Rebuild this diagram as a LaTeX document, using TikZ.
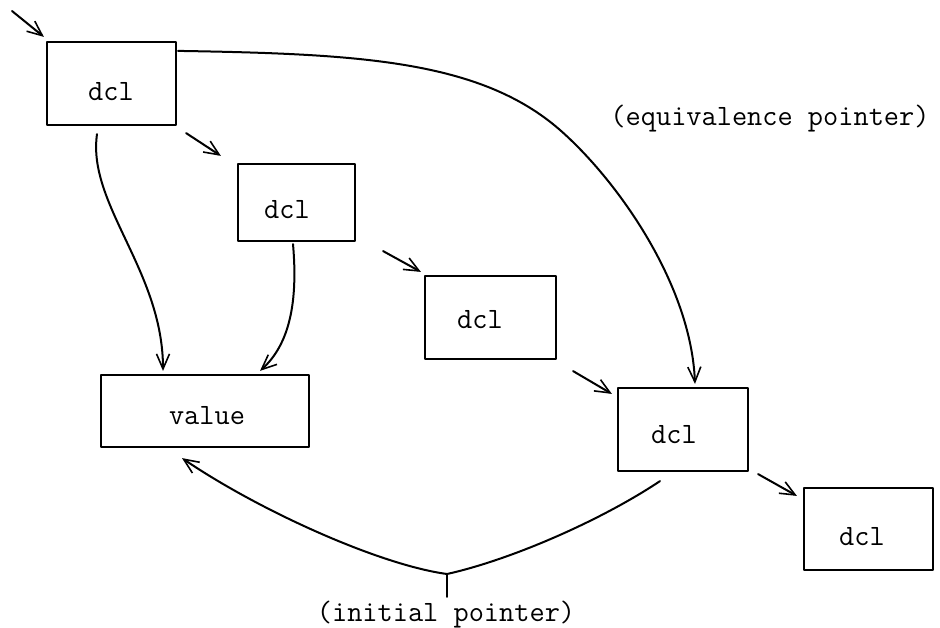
\documentclass[tikz,border=0pt]{standalone}
\usetikzlibrary{arrows.meta,calc}
\begin{document}
\begin{tikzpicture}[x=1pt,y=-1pt,
  line cap=round, line join=round,
  box/.style={draw, rectangle, line width=2.2pt, inner sep=0pt},
  txt/.style={inner sep=0pt, font=\ttfamily\fontsize{29.5}{34}\selectfont},
  link/.style={line width=2pt, -{Straight Barb[length=15pt,width=13pt,line width=1.6pt]}},
  wire/.style={line width=2pt}]
\useasboundingbox (0,0) rectangle (940,628);

% declaration blocks and the value block
\node[box, minimum width=129pt, minimum height=83pt] (d1) at (111.5,83.5) {};
\node[box, minimum width=117pt, minimum height=77pt] (d2) at (296.5,202.5) {};
\node[box, minimum width=131pt, minimum height=83pt] (d3) at (490.5,317.5) {};
\node[box, minimum width=130pt, minimum height=83pt] (d4) at (683,429.5) {};
\node[box, minimum width=129pt, minimum height=82pt] (d5) at (868.5,529) {};
\node[box, minimum width=208pt, minimum height=72pt] (val) at (205,411) {};

% block captions
\node[txt] (d1t) at (111,91.5) {dcl};
\node[txt] (d2t) at (287,210) {dcl};
\node[txt] (d3t) at (480,320) {dcl};
\node[txt] (d4t) at (674,435) {dcl};
\node[txt] (d5t) at (862,537) {dcl};
\node[txt] (valt) at (207,416) {value};

% pointer labels
\node[txt] (eql) at (770,118.5) {(equivalence pointer)};
\node[txt] (ipl) at (446,614.5) {(initial pointer)};

% chain of declarations
\coordinate (entry) at (12,11);
\draw[link] (entry) -- ($(d1.north west)+(-2,-4)$);
\draw[link] ($(d1.south east)+(9,7)$) -- ($(d2.north west)+(-16,-7)$);
\draw[link] ($(d2.south east)+(27,9)$) -- ($(d3.north west)+(-3,-3)$);
\draw[link] ($(d3.south east)+(16,11)$) -- ($(d4.north west)+(-5,7)$);
\draw[link] ($(d4.south east)+(9,2)$) -- ($(d5.north west)+(-6,9)$);

% value pointers
\draw[link] ($(d1.south)+(-14.5,8)$) .. controls +(-10,70) and +(0,-100) .. ($(val.north)+(-42,-3)$);
\draw[link] ($(d2.south)+(-3.5,2)$) .. controls +(5,57) and +(30,-27) .. ($(val.north)+(55,-3)$);

% equivalence pointer
\coordinate (eqm) at (560,130);
\draw[link] ($(d1.north east)+(1,10)$) .. controls +(180,3) and +(-80,-70) .. (eqm)
  .. controls +(57,50) and +(-4,-100) .. ($(d4.north)+(12,-3)$);

% initial pointer
\coordinate (ip) at (447,574);
\draw[link] ($(d4.south)+(-23,9)$) .. controls +(-60,40) and +(63,-14) .. (ip)
  .. controls +(-67,-9) and +(78,53) .. ($(val.south)+(-23,10)$);
\draw[wire, shorten >=4pt] (ip) -- (ip |- ipl.north);
\end{tikzpicture}
\end{document}
